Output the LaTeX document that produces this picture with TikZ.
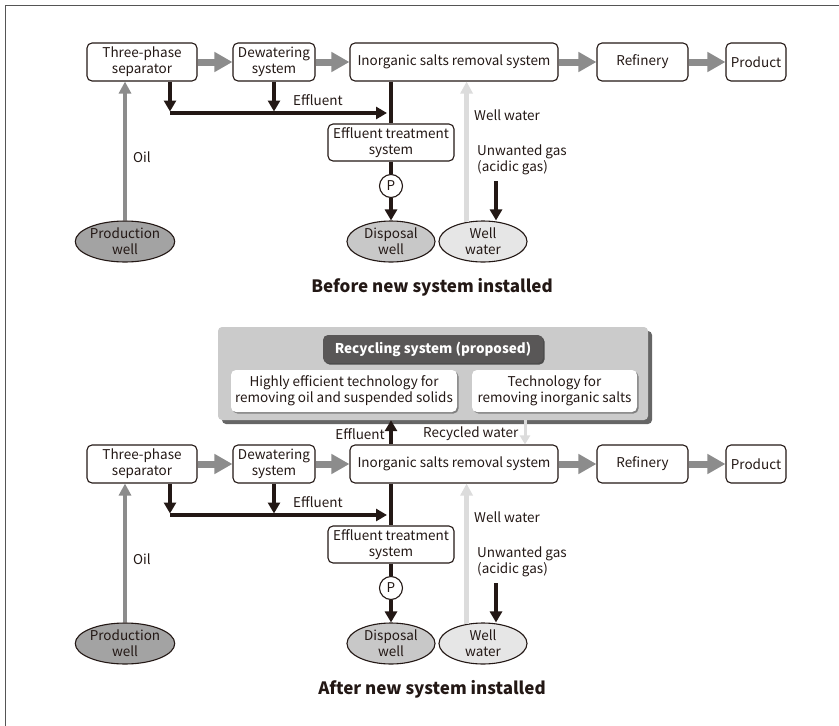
\documentclass[tikz,border=0pt]{standalone}
\usepackage{fontspec}
\setmainfont{Noto Sans CJK JP}
\usetikzlibrary{arrows.meta,shapes.geometric,shadows}
\definecolor{ink}{HTML}{231815}
\definecolor{midgray}{HTML}{8C8C8C}
\definecolor{lightgr}{HTML}{DCDCDC}
\definecolor{prodfill}{HTML}{A3A3A3}
\definecolor{dispfill}{HTML}{C8C8C8}
\definecolor{waterfill}{HTML}{E6E6E6}
\definecolor{panelfill}{HTML}{CBCBCB}
\definecolor{hdrfill}{HTML}{595757}
\definecolor{framec}{HTML}{555555}
\newcommand\normaltext{\fontsize{13.5}{16}\selectfont}
\newcommand\titletext{\fontsize{17}{20}\selectfont\bfseries}
\tikzset{
  box/.style={draw=ink, line width=1.1pt, rounded corners=5pt, inner sep=0pt, align=center, font=\normaltext, text=ink, fill=white},
  wellnode/.style={ellipse, draw=ink, line width=1.1pt, minimum width=88pt, minimum height=41pt, inner sep=0pt, align=center, font=\normaltext, text=ink},
  pump/.style={circle, draw=ink, line width=1.1pt, minimum size=23pt, inner sep=0pt, font=\normaltext, text=ink, fill=white},
  lbl/.style={font=\normaltext, text=ink, inner sep=0pt, align=left},
  titlelbl/.style={font=\titletext, text=ink, inner sep=0pt},
  bigarrow/.style={draw=midgray, line width=7pt, -{Triangle[length=18pt,width=19pt]}},
  oilarrow/.style={draw=midgray, line width=4.5pt, -{Triangle[length=12pt,width=12pt]}},
  lightarrow/.style={draw=lightgr, line width=4.5pt, -{Triangle[length=12pt,width=12pt]}},
  recyarrow/.style={draw=lightgr, line width=3pt, -{Triangle[length=9pt,width=10pt]}},
  blackarrow/.style={draw=ink, line width=4.2pt, -{Triangle[length=11pt,width=12pt]}},
  blackline/.style={draw=ink, line width=4.2pt},
  panelbox/.style={fill=panelfill, rounded corners=4pt, inner sep=0pt, minimum width=430pt, minimum height=93pt,
    drop shadow={shadow xshift=4pt, shadow yshift=-4pt, fill=black!60, opacity=1}},
  hdrbox/.style={fill=hdrfill, rounded corners=5pt, inner sep=0pt, minimum width=220pt, minimum height=28pt,
    text=white, font=\normaltext\bfseries,
    drop shadow={shadow xshift=1.5pt, shadow yshift=-1.5pt, fill=black!70, opacity=1}},
  techbox/.style={fill=white, rounded corners=5pt, inner sep=0pt, minimum height=42pt, align=center,
    text=ink, font=\normaltext,
    drop shadow={shadow xshift=1.5pt, shadow yshift=-1.5pt, fill=black!50, opacity=1}},
}
\newcommand\flowhalf[3]{%
\begin{scope}[yshift=-#2pt]
\node[box,minimum width=110pt,minimum height=38pt] (#1sep) at (142,62) {Three-phase\\separator};
\node[box,minimum width=82pt,minimum height=38pt] (#1dew) at (274,62) {Dewatering\\system};
\node[box,minimum width=208pt,minimum height=38pt] (#1inorg) at (454,62) {Inorganic salts removal system};
\node[box,minimum width=91pt,minimum height=38pt] (#1ref) at (642.5,62) {Refinery};
\node[box,minimum width=60pt,minimum height=38pt] (#1prod) at (756,62) {Product};
\node[box,minimum width=126pt,minimum height=37pt] (#1ets) at (391,142.5) {Effluent treatment\\system};
\node[pump] (#1p) at (391,186) {P};
\node[wellnode,fill=prodfill] (#1pw) at (125,241.5) {Production\\well};
\node[wellnode,fill=dispfill] (#1dw) at (391,241.5) {Disposal\\well};
\node[wellnode,fill=waterfill] (#1ww) at (483,241.5) {Well\\water};
\coordinate (#1jl) at (170,113);
\coordinate (#1jr) at (387,113);
\coordinate (#1gas) at (496,181);
\draw[bigarrow] (#1sep) -- (#1dew);
\draw[bigarrow] (#1dew) -- (#1inorg);
\draw[bigarrow] (#1inorg) -- (#1ref);
\draw[bigarrow] (#1ref) -- (#1prod);
\draw[oilarrow] (#1pw.north) -- (#1pw.north |- #1sep.south);
\draw[lightarrow] (#1ww.130) -- (#1ww.130 |- #1inorg.south);
\draw[blackarrow] (#1gas) -- (#1gas |- #1ww.north);
\draw[blackarrow, shorten >=1.5pt] (#1sep.south -| #1jl) -- (#1jl);
\draw[blackarrow, shorten >=1.5pt] (#1dew.south) -- (#1dew.south |- #1jl);
\draw[blackarrow] (#1jl) -- (#1jr);
\draw[blackline] (#1ets.north |- #1inorg.south) -- (#1ets.north);
\draw[blackline] (#1ets.south) -- (#1p.north);
\draw[blackarrow] (#1p.south) -- (#1dw.north);
\node[lbl,anchor=west] at (293,100) {Effluent};
\node[lbl,anchor=west] at (133,157) {Oil};
\node[lbl,anchor=west] at (474,115) {Well water};
\node[lbl,anchor=west] at (477,159.5) {Unwanted gas\\(acidic gas)};
\node[titlelbl] at (432,287) {#3};
\end{scope}}
\begin{document}
\begin{tikzpicture}[x=1pt,y=-1pt]
\useasboundingbox (0,0) rectangle (839,726);
\draw[framec, line width=1pt] (5.5,740) -- (5.5,5.5) -- (850,5.5);
\flowhalf{a}{0}{Before new system installed}
\node[panelbox] (panel) at (433,373.5) {};
\node[hdrbox] (hdr) at (433,349) {Recycling system (proposed)};
\node[techbox, minimum width=226pt] (tech1) at (344,391) {Highly efficient technology for\\removing oil and suspended solids};
\node[techbox, minimum width=165pt] (tech2) at (554.5,391) {Technology for\\removing inorganic salts};
\flowhalf{b}{402}{After new system installed}
\coordinate (rwtop) at (525,420);
\draw[blackarrow] (bets.north |- binorg.north) -- (bets.north |- panel.south);
\draw[recyarrow] (rwtop) -- (rwtop |- binorg.north);
\node[lbl,anchor=east] at (385,434) {Effluent};
\node[lbl,anchor=west] at (423,434) {Recycled water};
\end{tikzpicture}
\end{document}
